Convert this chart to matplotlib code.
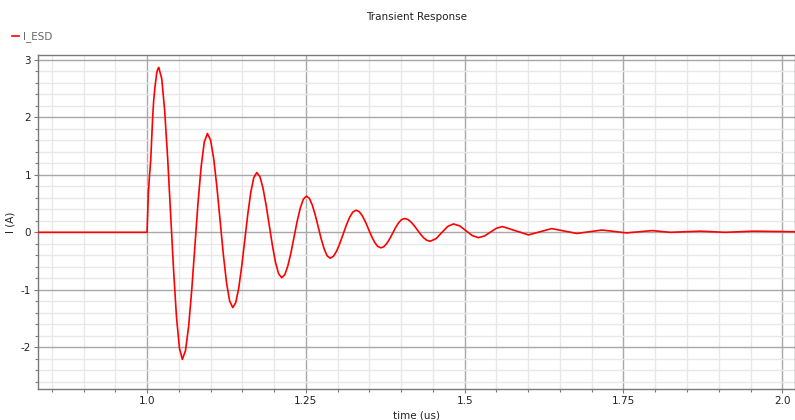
import matplotlib
matplotlib.use("Agg")
import matplotlib.pyplot as plt
from matplotlib.ticker import MultipleLocator, FixedLocator, FuncFormatter

# values (time in us, current in A)
time_us = [
    0.80, 1.000, 1.0010, 1.0021, 1.0040, 1.0058, 1.0089, 1.0105, 1.0126, 1.0152, 1.0168, 1.0184,
    1.0231, 1.0277, 1.0324, 1.0370, 1.0417, 1.0463, 1.0510, 1.0556,
    1.0605, 1.0655, 1.0704, 1.0753, 1.0802, 1.0852, 1.0901, 1.0950,
    1.1000, 1.1050, 1.1100, 1.1150, 1.1200, 1.1250, 1.1300, 1.1350,
    1.1397, 1.1444, 1.1491, 1.1539, 1.1586, 1.1633, 1.1680, 1.1727,
    1.1776, 1.1825, 1.1874, 1.1924, 1.1973, 1.2022, 1.2071, 1.2120,
    1.2169, 1.2217, 1.2266, 1.2315, 1.2363, 1.2412, 1.2460, 1.2509,
    1.2556, 1.2602, 1.2649, 1.2696, 1.2742, 1.2789, 1.2835, 1.2882,
    1.2933, 1.2984, 1.3035, 1.3087, 1.3138, 1.3189, 1.3240, 1.3291,
    1.3340, 1.3388, 1.3437, 1.3486, 1.3534, 1.3583, 1.3631, 1.3680,
    1.3727, 1.3773, 1.3820, 1.3866, 1.3913, 1.3959, 1.4006, 1.4052,
    1.4103, 1.4153, 1.4204, 1.4255, 1.4305, 1.4356, 1.4406, 1.4457,
    1.4549, 1.4641, 1.4732, 1.4824,
    1.4923, 1.5021, 1.5120, 1.5218,
    1.5312, 1.5407, 1.5501, 1.5595,
    1.5800, 1.6005, 1.6188, 1.6370, 1.6569, 1.6767,
    1.6964, 1.7160, 1.7355, 1.7550, 1.7750, 1.7950,
    1.8236, 1.8710, 1.9100, 1.9550, 2.0200,
]
i_esd = [
    0.0, 0.0, 0.35, 0.68, 1.00, 1.26, 2.01, 2.30, 2.54, 2.77, 2.84, 2.87,
    2.676, 2.126, 1.302, 0.330, -0.642, -1.466, -2.016, -2.21,
    -2.060, -1.635, -0.997, -0.245, 0.507, 1.145, 1.570, 1.72,
    1.605, 1.276, 0.785, 0.205, -0.375, -0.866, -1.195, -1.31,
    -1.221, -0.966, -0.585, -0.135, 0.315, 0.696, 0.951, 1.04,
    0.970, 0.772, 0.475, 0.125, -0.225, -0.522, -0.720, -0.79,
    -0.736, -0.582, -0.352, -0.080, 0.192, 0.422, 0.576, 0.63,
    0.589, 0.472, 0.297, 0.090, -0.117, -0.292, -0.409, -0.45,
    -0.418, -0.328, -0.192, -0.033, 0.127, 0.263, 0.353, 0.385,
    0.360, 0.289, 0.183, 0.058, -0.068, -0.174, -0.245, -0.27,
    -0.251, -0.195, -0.113, -0.015, 0.083, 0.165, 0.221, 0.24,
    0.225, 0.182, 0.118, 0.043, -0.033, -0.097, -0.140, -0.155,
    -0.111, -0.005, 0.102, 0.146,
    0.111, 0.027, -0.057, -0.092,
    -0.064, 0.004, 0.072, 0.10,
    0.0275, -0.045, 0.01, 0.065, 0.0225, -0.02,
    0.01, 0.04, 0.015, -0.01, 0.01, 0.03,
    0.0, 0.02, 0.0, 0.02, 0.01,
]

x_major = [1.0, 1.25, 1.5, 1.75, 2.0]
x_major_labels = ["1.0", "1.25", "1.5", "1.75", "2.0"]

fig = plt.figure(figsize=(7.95, 4.2), dpi=100)
ax = fig.add_axes([0.048, 0.074, 0.952, 0.794])

line, = ax.plot(time_us, i_esd, color="#ff0000", lw=1.2, label="I_ESD", zorder=3)

ax.set_xlim(0.8286, 2.02)
ax.set_ylim(-2.725, 3.078)

ax.xaxis.set_major_locator(FixedLocator(x_major))
ax.xaxis.set_major_formatter(FuncFormatter(lambda v, p: x_major_labels[x_major.index(round(v, 2))] if round(v, 2) in x_major else ""))
ax.xaxis.set_minor_locator(MultipleLocator(0.05))
ax.yaxis.set_major_locator(MultipleLocator(1))
ax.yaxis.set_minor_locator(MultipleLocator(0.2))
ax.yaxis.set_major_formatter(FuncFormatter(lambda v, p: "%d" % round(v)))

ax.grid(which="minor", color="#e8e8e8", lw=1.0)
ax.grid(which="major", color="#a8a8a8", lw=1.0)
ax.set_axisbelow(True)

for s in ax.spines.values():
    s.set_color("#7a7a7a")
    s.set_linewidth(1.0)

ax.tick_params(which="major", direction="out", length=3, width=0.8, color="#7a7a7a",
               labelsize=7.5, labelcolor="#222222", pad=2)
ax.tick_params(which="minor", direction="out", length=2, width=0.8, color="#7a7a7a")

ax.set_xlabel("time (us)", fontsize=7.5, color="#222222", labelpad=3)
ax.set_ylabel("I (A)", fontsize=7.5, color="#222222", labelpad=4)
fig.text(0.524, 0.96, "Transient Response", ha="center", va="center", fontsize=7.5, color="#222222")

fig.legend(handles=[line], loc="center left", bbox_to_anchor=(0.015, 0.912), frameon=False,
           fontsize=7.5, labelcolor="#666666", handlelength=0.7, handletextpad=0.4,
           borderaxespad=0, borderpad=0)

fig.savefig("out.png", dpi=100)
